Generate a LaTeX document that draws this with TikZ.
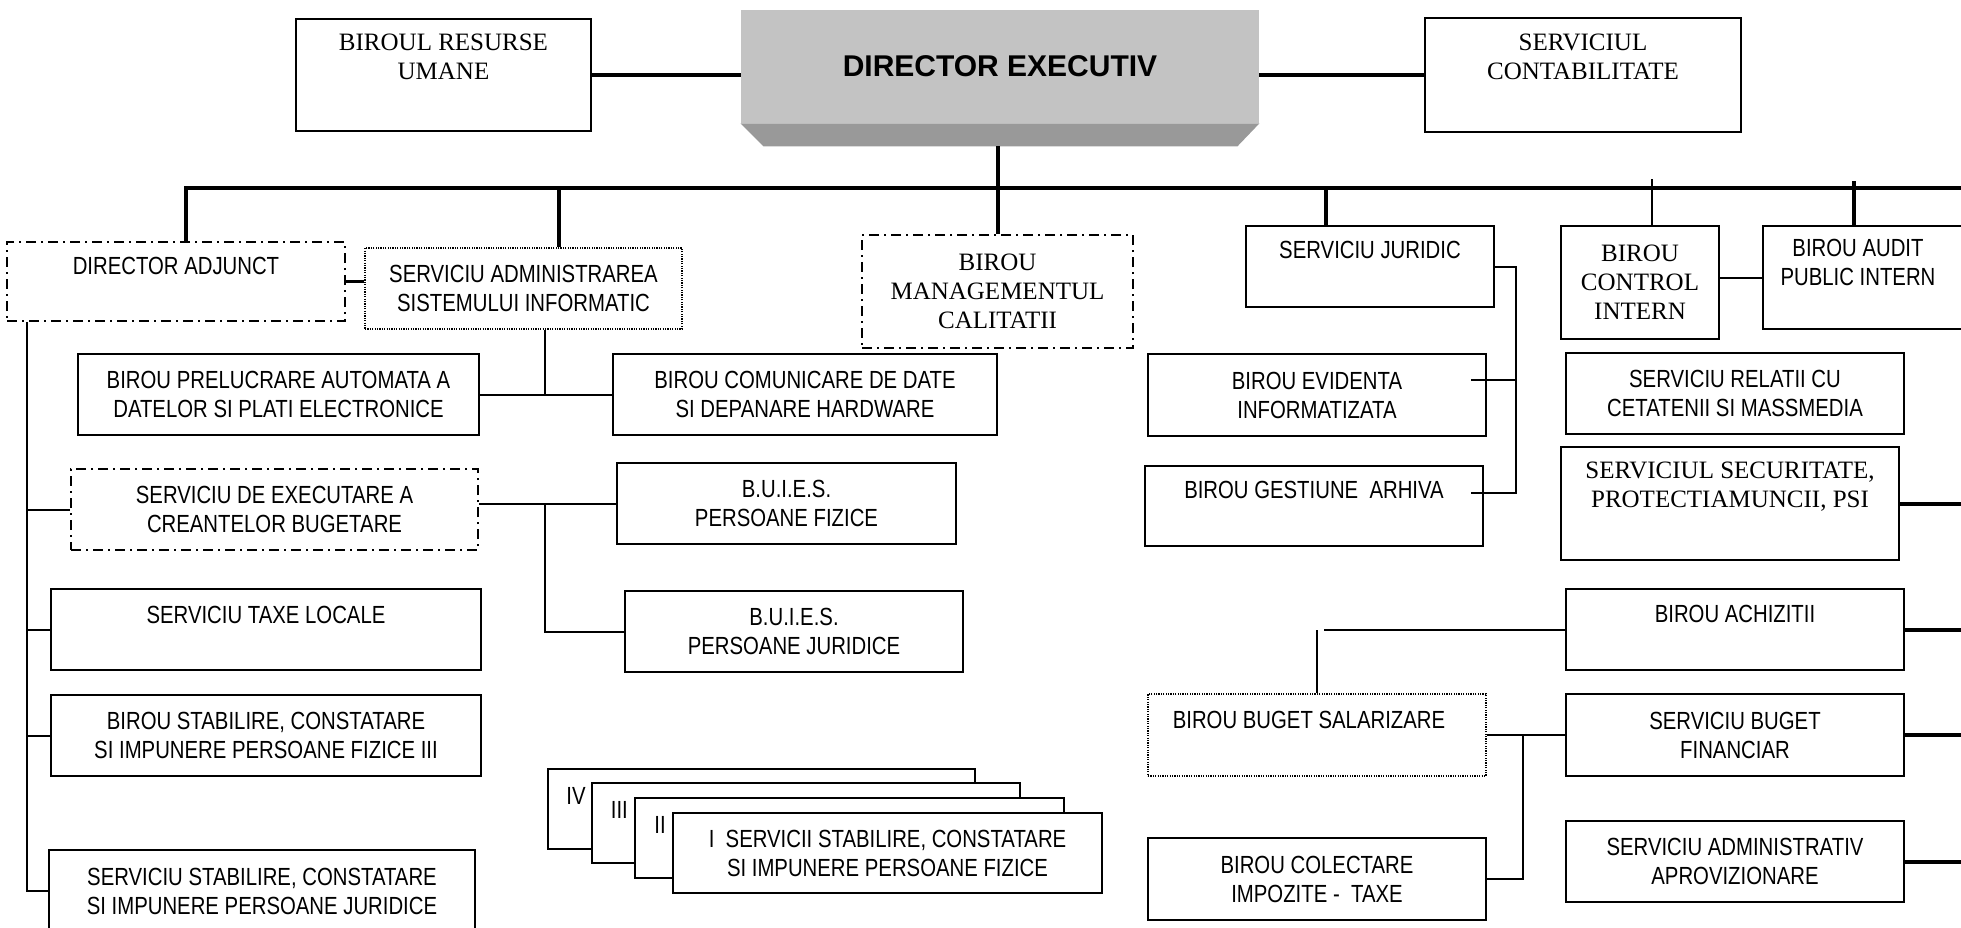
\documentclass[tikz,border=0pt]{standalone}
\usepackage{fontspec}
\setmainfont{Liberation Sans}
\newfontfamily\narrowsans{Liberation Sans}[FakeStretch=0.82]
\newfontfamily\timesfont{Liberation Serif}
\usetikzlibrary{calc}
\definecolor{facegray}{HTML}{C3C3C3}
\definecolor{bevelgray}{HTML}{999999}
\tikzset{
  box/.style={draw, line width=1pt, inner sep=0pt},
  sanstext/.style={font=\narrowsans\fontsize{12.4}{14.5}\selectfont, align=center},
  seriftext/.style={font=\timesfont\fontsize{12.5}{14.5}\selectfont, align=center},
  dashdotbox/.style={dash pattern=on 5pt off 2.5pt on 1pt off 2.5pt},
  dotbox/.style={dash pattern=on 0.6pt off 0.6pt},
  busline/.style={line width=2pt},
  dropline/.style={line width=1.6pt},
  link/.style={line width=1pt},
}

\begin{document}
\begin{tikzpicture}[x=0.5pt,y=-0.5pt]
    \useasboundingbox (0,0) rectangle (1961,927);
    \clip (0,0) rectangle (1961,927);
    % Definitions:
    \node[box, minimum width=147.5pt, minimum height=56pt,
      label={[seriftext, anchor=north, inner sep=0pt, yshift=-8pt]north:{BIROUL RESURSE\\UMANE}}] (bru) at (443.5,75) {};
    \node[fill=facegray, minimum width=259pt, minimum height=56.5pt, inner sep=0pt,
      font=\bfseries\fontsize{15}{18}\selectfont] (dir) at (1000,66.5) {DIRECTOR EXECUTIV};
    \node[box, minimum width=158pt, minimum height=57pt,
      label={[seriftext, anchor=north, inner sep=0pt, yshift=-8.5pt]north:{SERVICIUL\\CONTABILITATE}}] (sc) at (1583,75) {};
    \node[box, dashdotbox, minimum width=169pt, minimum height=39.5pt,
      label={[sanstext, anchor=north, inner sep=0pt, yshift=-8pt]north:DIRECTOR ADJUNCT}] (dadj) at (176,281.5) {};
    \node[box, dotbox, sanstext, minimum width=158.5pt, minimum height=40.5pt] (sasi) at (523.5,288.5) {SERVICIU ADMINISTRAREA\\SISTEMULUI INFORMATIC};
    \node[box, dashdotbox, seriftext, minimum width=135.5pt, minimum height=56.5pt] (bmc) at (997.5,291.5) {BIROU\\MANAGEMENTUL\\CALITATII};
    \node[box, minimum width=124pt, minimum height=40.5pt,
      label={[sanstext, anchor=north, inner sep=0pt, yshift=-8pt]north:SERVICIU JURIDIC}] (sj) at (1370,266.5) {};
    \node[box, seriftext, minimum width=79pt, minimum height=56.5pt] (bci) at (1640,282.5) {BIROU\\CONTROL\\INTERN};
    \node[box, minimum width=100pt, minimum height=51.5pt,
      label={[sanstext, anchor=north, inner sep=0pt, xshift=-2.5pt, yshift=-7pt]north:{BIROU AUDIT\\PUBLIC INTERN}}] (bapi) at (1863,277.5) {};
    \node[box, sanstext, minimum width=200.5pt, minimum height=40.5pt] (bpa) at (278.5,394.5) {BIROU PRELUCRARE AUTOMATA A\\DATELOR SI PLATI ELECTRONICE};
    \node[box, sanstext, minimum width=192pt, minimum height=40.5pt] (bcd) at (805,394.5) {BIROU COMUNICARE DE DATE\\SI DEPANARE HARDWARE};
    \node[box, dashdotbox, sanstext, minimum width=203.5pt, minimum height=40.5pt] (sde) at (274.5,509.5) {SERVICIU DE EXECUTARE A\\CREANTELOR BUGETARE};
    \node[box, sanstext, minimum width=169.5pt, minimum height=40.5pt] (bpf) at (786.5,503.5) {B.U.I.E.S.\\PERSOANE FIZICE};
    \node[box, sanstext, minimum width=169pt, minimum height=40.5pt] (bpj) at (794,631.5) {B.U.I.E.S.\\PERSOANE JURIDICE};
    \node[box, minimum width=215pt, minimum height=40.5pt,
      label={[sanstext, anchor=north, inner sep=0pt, yshift=-9pt]north:SERVICIU TAXE LOCALE}] (stl) at (266,629.5) {};
    \node[box, sanstext, minimum width=215pt, minimum height=40.5pt] (bsc) at (266,735.5) {BIROU STABILIRE, CONSTATARE\\SI IMPUNERE PERSOANE FIZICE III};
    \node[box, sanstext, minimum width=213pt, minimum height=41pt] (ssj) at (262,891) {SERVICIU STABILIRE, CONSTATARE\\SI IMPUNERE PERSOANE JURIDICE};
    \node[box, sanstext, minimum width=169pt, minimum height=41pt] (bei) at (1317,395) {BIROU EVIDENTA\\INFORMATIZATA};
    \node[box, minimum width=169pt, minimum height=40pt,
      label={[sanstext, anchor=north, inner sep=0pt, yshift=-8pt]north:BIROU GESTIUNE~~ARHIVA}] (bga) at (1314,506) {};
    \node[box, sanstext, minimum width=169.25pt, minimum height=40.5pt] (src) at (1735,393.5) {SERVICIU RELATII CU\\CETATENII SI MASSMEDIA};
    \node[box, minimum width=169pt, minimum height=56.5pt,
      label={[seriftext, anchor=north, inner sep=0pt, yshift=-8pt]north:{SERVICIUL SECURITATE,\\PROTECTIAMUNCII, PSI}}] (ssp) at (1730,503.5) {};
    \node[box, minimum width=169.25pt, minimum height=40.5pt,
      label={[sanstext, anchor=north, inner sep=0pt, yshift=-8.5pt]north:BIROU ACHIZITII}] (ba) at (1735,629.5) {};
    \node[box, dotbox, minimum width=169pt, minimum height=41pt,
      label={[sanstext, anchor=north, inner sep=0pt, xshift=-4pt, yshift=-9pt]north:BIROU BUGET SALARIZARE}] (bbs) at (1317,735) {};
    \node[box, sanstext, minimum width=169.25pt, minimum height=41pt] (sbf) at (1735,735) {SERVICIU BUGET\\FINANCIAR};
    \node[box, sanstext, minimum width=169pt, minimum height=41pt] (bcit) at (1317,879) {BIROU COLECTARE\\IMPOZITE -~~TAXE};
    \node[box, sanstext, minimum width=169.25pt, minimum height=40.5pt] (saa) at (1735,861.5) {SERVICIU ADMINISTRATIV\\APROVIZIONARE};
    \node[box, fill=white, minimum width=213.5pt, minimum height=40pt,
      label={[sanstext, anchor=north west, inner sep=0pt, xshift=9.5pt, yshift=-9.5pt]north west:IV}] (s4) at (761.5,809) {};
    \node[box, fill=white, minimum width=214.25pt, minimum height=40pt,
      label={[sanstext, anchor=north west, inner sep=0pt, xshift=10pt, yshift=-9.5pt]north west:III}] (s3) at (805.75,823) {};
    \node[box, fill=white, minimum width=214.5pt, minimum height=40pt,
      label={[sanstext, anchor=north west, inner sep=0pt, xshift=10pt, yshift=-9.5pt]north west:II}] (s2) at (849.5,838) {};
    \node[box, fill=white, sanstext, minimum width=214.5pt, minimum height=40pt] (s1) at (887.5,853) {I~~SERVICII STABILIRE, CONSTATARE\\SI IMPUNERE PERSOANE FIZICE};
    \coordinate (dirbase) at ($(dir.south)+(0,23)$);
    \coordinate (busL) at (186,188);
    \coordinate (busR) at (1970,188);
    \coordinate (b1) at (559,188);
    \coordinate (b2) at (1326,188);
    \coordinate (b3) at (1652,179);
    \coordinate (b4) at (1854,181);
    \coordinate (j1) at (545,395);
    \coordinate (trunk) at (27,0);
    \coordinate (k) at (1516,0);
    \coordinate (e1) at (1471,380);
    \coordinate (e2) at (1471,493);
    % Drawing:
    \fill[bevelgray] (dir.south west) -- (dir.south east) -- ++(-22,23) -- ($(dir.south west)+(23,23)$) -- cycle;
    \draw[busline] (bru.east) -- (bru.east -| dir.west);
    \draw[busline] (dir.east |- sc.west) -- (sc.west);
    \draw[busline] (bmc.north) -- (bmc.north |- dirbase);
    \draw[busline] (busL |- dadj.north) -- (busL) -- (busR);
    \draw[dropline] (b1) -- (b1 |- sasi.north);
    \draw[dropline] (b2) -- (b2 |- sj.north);
    \draw[link] (b3) -- (b3 |- bci.north);
    \draw[dropline] (b4) -- (b4 |- bapi.north);
    \draw[line width=1.2pt] (dadj.east) -- (dadj.east -| sasi.west);
    \draw[link] (bpa.east) -- (bcd.west);
    \draw[link] (j1) -- (j1 |- sasi.south);
    \draw[link] (sde.east |- bpf.west) -- (bpf.west);
    \draw[link] (j1 |- bpf.west) |- (bpj.west);
    \draw[link] (trunk |- dadj.south) |- (ssj.west);
    \draw[link] (trunk |- sde.west) -- (sde.west);
    \draw[link] (trunk |- stl.west) -- (stl.west);
    \draw[link] (trunk |- bsc.west) -- (bsc.west);
    \draw[link] (bci.east |- bapi.west) -- (bapi.west);
    \draw[link] (sj.east) -| (k |- e2) -- (e2);
    \draw[link] (k |- e1) -- (e1);
    \draw[busline] (ssp.east) -- (ssp.east -| busR);
    \draw[busline] (ba.east) -- (ba.east -| busR);
    \draw[busline] (sbf.east) -- (sbf.east -| busR);
    \draw[busline] (saa.east) -- (saa.east -| busR);
    \draw[link] (ba.west) -- ($(ba.west -| bbs.north)+(7,0)$);
    \draw[link] (bbs.north) -- (bbs.north |- ba.west);
    \draw[link] (bbs.east) -- (sbf.west);
    \draw[link] ($(bbs.east)!0.46!(sbf.west)$) |- (bcit.east);
\end{tikzpicture}
\end{document}
